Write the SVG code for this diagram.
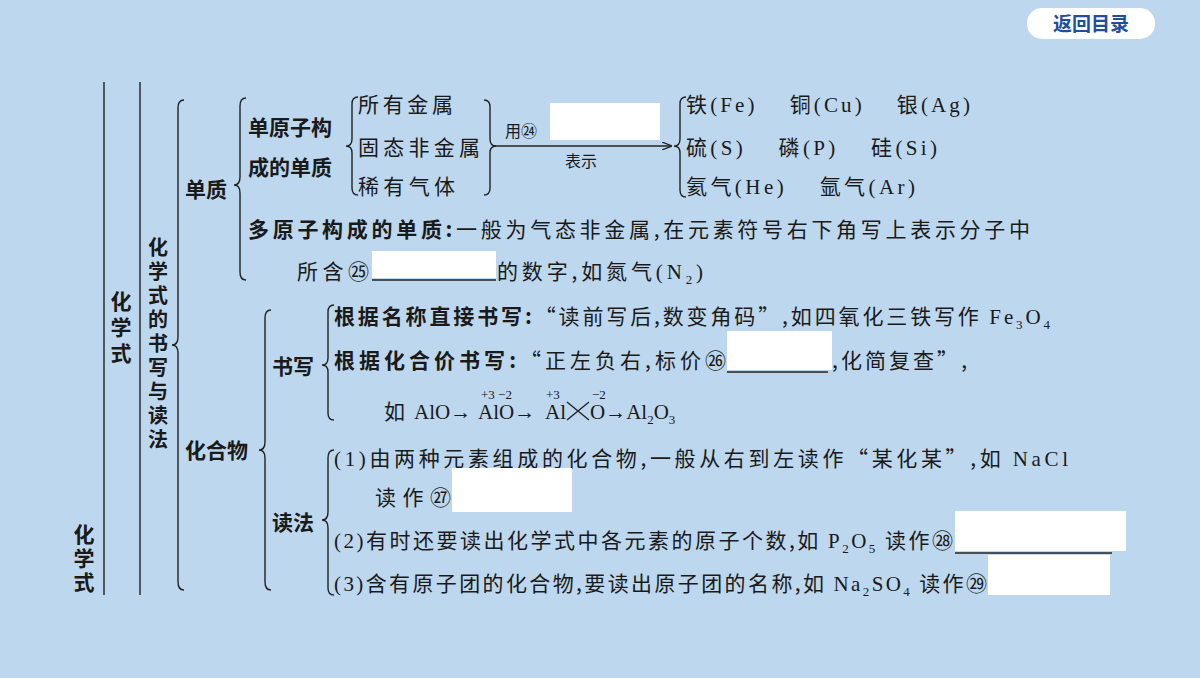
<svg xmlns="http://www.w3.org/2000/svg" width="1200" height="678" viewBox="0 0 1200 678">
<style>
text{font-family:"Noto Sans CJK SC","Liberation Serif",serif;font-size:21px;fill:#1a1a1a}
.b{font-weight:bold}
.r{font-family:"Liberation Serif","Noto Sans CJK SC",serif;font-weight:normal}
.s{font-size:13px}
.vt{writing-mode:vertical-rl;font-weight:bold}
.br{fill:none;stroke:#222;stroke-width:1.4}
.w{fill:#fff}
.ln{stroke:#222;stroke-width:1.4}
</style>
<defs><marker id="ar" markerWidth="10" markerHeight="8" refX="9" refY="4" orient="auto" markerUnits="userSpaceOnUse"><path d="M0,0 L10,4 L0,8" fill="none" stroke="#222" stroke-width="1.2"/></marker></defs>
<rect width="1200" height="678" fill="#bdd7ee"/>
<g id="btn"><rect x="1027" y="8" width="128" height="31" rx="15" fill="#fff"/><text x="1091" y="31" text-anchor="middle" class="b" style="font-size:19px;fill:#1f4e9e">返回目录</text></g>
<g id="connectors">
<line class="ln" x1="104" y1="82" x2="104" y2="595"/>
<line class="ln" x1="140" y1="82" x2="140" y2="595"/>
<path class="br" d="M184,100 Q178,100 178,108 L178,337 Q178,345 172,345 Q178,345 178,353 L178,582 Q178,590 184,590"/>
<path class="br" d="M246,98 Q240,98 240,106 L240,177 Q240,185 234,185 Q240,185 240,193 L240,272 Q240,280 246,280"/>
<path class="br" d="M358,97 Q352,97 352,104 L352,139 Q352,146 346,146 Q352,146 352,153 L352,188 Q352,195 358,195"/>
<path class="br" d="M484,100 Q490,100 490,107 L490,139 Q490,146 496,146 Q490,146 490,153 L490,188 Q490,195 484,195"/>
<path class="br" d="M686,97 Q680,97 680,104 L680,139 Q680,146 674,146 Q680,146 680,153 L680,190 Q680,197 686,197"/>
<line class="ln" x1="493" y1="146" x2="671" y2="146" marker-end="url(#ar)"/>
<path class="br" d="M271,310 Q265,310 265,318 L265,442 Q265,450 259,450 Q265,450 265,458 L265,582 Q265,590 271,590"/>
<path class="br" d="M334,305 Q328,305 328,312 L328,358 Q328,365 322,365 Q328,365 328,372 L328,413 Q328,420 334,420"/>
<path class="br" d="M334,450 Q328,450 328,458 L328,512 Q328,520 322,520 Q328,520 328,528 L328,588 Q328,595 334,595"/>
</g>
<g id="n-root"><text x="84" y="524" class="vt" style="letter-spacing:3px">化学式</text></g>
<g id="n-hxs"><text x="121" y="291" class="vt" style="letter-spacing:5px">化学式</text></g>
<g id="n-sx"><text x="158" y="237" class="vt" style="font-size:20px;letter-spacing:4px">化学式的书写与读法</text></g>
<g id="n-dz"><text x="185" y="197" class="b">单质</text></g>
<g id="n-dyz"><text x="248" y="135" class="b">单原子构</text><text x="248" y="175" class="b">成的单质</text></g>
<g id="n-list"><text x="358" y="112" textLength="95">所有金属</text><text x="358" y="155" textLength="122">固态非金属</text><text x="358" y="194" textLength="97">稀有气体</text></g>
<g id="n-arrow"><text x="505" y="137" style="font-size:16px">用㉔</text><rect class="w" x="550" y="103" width="110" height="37"/><text x="565" y="167" style="font-size:16px">表示</text></g>
<g id="n-el"><text x="686" y="112" textLength="284">铁<tspan class="r">(Fe)</tspan>　 铜<tspan class="r">(Cu)</tspan>　 银<tspan class="r">(Ag)</tspan></text>
<text x="686" y="155" textLength="251">硫<tspan class="r">(S)</tspan>　 磷<tspan class="r">(P)</tspan>　 硅<tspan class="r">(Si)</tspan></text>
<text x="686" y="194" textLength="229">氦气<tspan class="r">(He)</tspan>　 氩气<tspan class="r">(Ar)</tspan></text></g>
<g id="n-dyz2"><text x="248" y="237" textLength="782"><tspan class="b">多原子构成的单质:</tspan>一般为气态非金属,在元素符号右下角写上表示分子中</text>
<text x="297" y="279" textLength="72">所含㉕</text><rect class="w" x="372" y="251" width="124" height="27"/><line class="ln" x1="372" y1="280" x2="496" y2="280"/><text x="497" y="279" textLength="206">的数字,如氮气<tspan class="r">(N</tspan><tspan class="r s" dy="5">2</tspan><tspan class="r" dy="-5">)</tspan></text></g>
<g id="n-hhw"><text x="185" y="458" class="b">化合物</text></g>
<g id="n-sx2"><text x="272" y="374" class="b">书写</text>
<text x="334" y="324" textLength="716"><tspan class="b">根据名称直接书写:</tspan>“读前写后,数变角码”,如四氧化三铁写作 <tspan class="r">Fe</tspan><tspan class="r s" dy="5">3</tspan><tspan class="r" dy="-5">O</tspan><tspan class="r s" dy="5">4</tspan></text>
<text x="334" y="368" textLength="392"><tspan class="b">根据化合价书写:</tspan>“正左负右,标价㉖</text><rect class="w" x="727" y="331" width="105" height="39"/><line class="ln" x1="727" y1="372" x2="828" y2="372"/><text x="832" y="368" textLength="135">,化简复查”,</text>
<text x="384" y="419">如</text>
<text x="414" y="419" class="r">AlO→</text><text x="478" y="419" class="r">AlO→</text><text x="545" y="419" class="r">Al</text><text x="590" y="419" class="r">O→Al<tspan class="s" dy="5">2</tspan><tspan dy="-5">O</tspan><tspan class="s" dy="5">3</tspan></text>
<text x="481" y="399" class="r s">+3 −2</text><text x="546" y="399" class="r s">+3</text><text x="592" y="399" class="r s">−2</text>
<path class="br" d="M567,402 L589,420 M567,420 L589,402"/></g>
<g id="n-df"><text x="272" y="530" class="b">读法</text>
<text x="334" y="466" class="r" textLength="734">(1)<tspan font-family="Noto Sans CJK SC">由两种元素组成的化合物,一般从右到左读作“某化某”,如 </tspan>NaCl</text>
<text x="375" y="505" textLength="76">读作㉗</text><rect class="w" x="452" y="468" width="120" height="44"/>
<text x="334" y="548" class="r" textLength="619">(2)<tspan font-family="Noto Sans CJK SC">有时还要读出化学式中各元素的原子个数,如 </tspan>P<tspan class="s" dy="5">2</tspan><tspan dy="-5">O</tspan><tspan class="s" dy="5">5</tspan><tspan dy="-5" font-family="Noto Sans CJK SC"> 读作㉘</tspan></text>
<rect class="w" x="955" y="511" width="171" height="40"/><line class="ln" x1="955" y1="553" x2="1112" y2="553"/>
<text x="334" y="591" class="r" textLength="653">(3)<tspan font-family="Noto Sans CJK SC">含有原子团的化合物,要读出原子团的名称,如 </tspan>Na<tspan class="s" dy="5">2</tspan><tspan dy="-5">SO</tspan><tspan class="s" dy="5">4</tspan><tspan dy="-5" font-family="Noto Sans CJK SC"> 读作㉙</tspan></text>
<rect class="w" x="988" y="555" width="122" height="40"/></g>
</svg>
